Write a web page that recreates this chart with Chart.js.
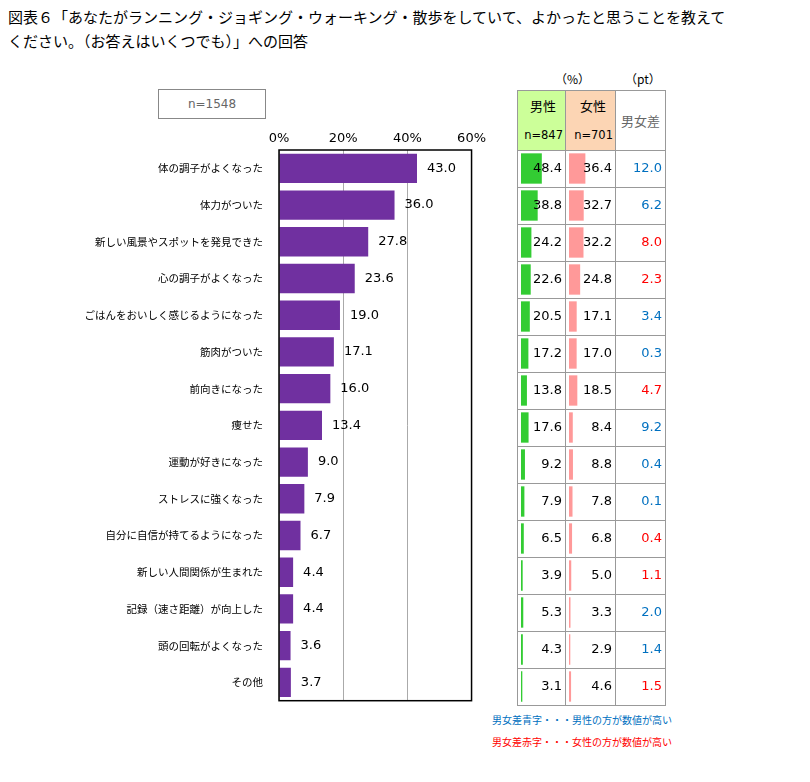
<!DOCTYPE html>
<html><head><meta charset="utf-8">
<script src="https://cdn.jsdelivr.net/npm/chart.js@4"></script>
<style>
body{margin:0;background:#fff;font-family:"Noto Sans CJK JP","Noto Sans",sans-serif;}
#wrap{position:relative;width:810px;height:782px;}
.abs{position:absolute;}
.t{font-size:15px;color:#000;line-height:24px;left:8px;top:5px;width:800px;}
.cell{position:absolute;box-sizing:border-box;}
.num{position:absolute;font-size:13px;font-family:"DejaVu Sans",sans-serif;text-align:right;}
</style></head>
<body><div id="wrap">
<div class="abs t">図表６「あなたがランニング・ジョギング・ウォーキング・散歩をしていて、よかったと思うことを教えて<br>ください。（お答えはいくつでも）」への回答</div>
<div class="abs" style="left:158px;top:89px;width:108px;height:30px;border:1px solid #888;box-sizing:border-box;font-size:12px;color:#666;text-align:center;line-height:28px;font-family:'DejaVu Sans'">n=1548</div>
<canvas id="main" class="abs" style="left:0;top:100px;width:490px;height:615px" width="490" height="615"></canvas>
<div id="table"></div>
<canvas id="male" class="abs" style="left:521px;top:150px;width:43px;height:555px" width="43" height="555"></canvas>
<canvas id="female" class="abs" style="left:569px;top:150px;width:45px;height:555px" width="45" height="555"></canvas>
<div id="nums"></div>
<div class="abs" style="left:492px;top:712px;font-size:10px;color:#0070c0">男女差青字・・・男性の方が数値が高い</div>
<div class="abs" style="left:492px;top:734px;font-size:10px;color:#ff0000">男女差赤字・・・女性の方が数値が高い</div>
</div>
<script>
const categories=["体の調子がよくなった","体力がついた","新しい風景やスポットを発見できた","心の調子がよくなった","ごはんをおいしく感じるようになった","筋肉がついた","前向きになった","痩せた","運動が好きになった","ストレスに強くなった","自分に自信が持てるようになった","新しい人間関係が生まれた","記録（速さ距離）が向上した","頭の回転がよくなった","その他"];
const total=[43.0,36.0,27.8,23.6,19.0,17.1,16.0,13.4,9.0,7.9,6.7,4.4,4.4,3.6,3.7];
const male=[48.4,38.8,24.2,22.6,20.5,17.2,13.8,17.6,9.2,7.9,6.5,3.9,5.3,4.3,3.1];
const female=[36.4,32.7,32.2,24.8,17.1,17.0,18.5,8.4,8.8,7.8,6.8,5.0,3.3,2.9,4.6];
const diff=[12.0,6.2,8.0,2.3,3.4,0.3,4.7,9.2,0.4,0.1,0.4,1.1,2.0,1.4,1.5];
const xTicks=[0,20,40,60];

const labelPlugin={id:'lbl',afterDatasetsDraw(c){
  const ctx=c.ctx,meta=c.getDatasetMeta(0);ctx.save();
  ctx.font='13px "DejaVu Sans"';ctx.fillStyle='#000';ctx.textBaseline='middle';
  meta.data.forEach((b,i)=>ctx.fillText(total[i].toFixed(1),b.x+10,b.y));
  const a=c.chartArea;ctx.strokeStyle='#000';ctx.lineWidth=1.5;ctx.strokeRect(a.left,a.top,a.right-a.left,a.bottom-a.top);
  ctx.restore();}};
new Chart(document.getElementById('main'),{type:'bar',
 data:{labels:categories,datasets:[{data:total,backgroundColor:'#7030a0',barPercentage:0.8,categoryPercentage:1}]},
 options:{indexAxis:'y',responsive:false,animation:false,devicePixelRatio:1,
  layout:{padding:{right:17,bottom:10,top:0}},
  plugins:{legend:{display:false},tooltip:{enabled:false}},
  scales:{
   x:{position:'top',min:0,max:60,afterBuildTicks(s){s.ticks=xTicks.map(v=>({value:v}));},
      afterFit(s){s.height=50;},
      ticks:{callback:v=>v+'%',color:'#000',font:{size:13,family:'DejaVu Sans'},padding:4,maxRotation:0},
      grid:{color:'#aaa',drawTicks:false},border:{display:false}},
   y:{afterFit(s){s.width=279;},ticks:{color:'#000',font:{size:10.5,family:'Noto Sans CJK JP'},padding:8},
      grid:{display:false},border:{display:false}}}},
 plugins:[labelPlugin]});

function mini(id,data,color){
 new Chart(document.getElementById(id),{type:'bar',
  data:{labels:categories,datasets:[{data:data,backgroundColor:color,barPercentage:0.82,categoryPercentage:1}]},
  options:{indexAxis:'y',responsive:false,animation:false,devicePixelRatio:1,layout:{padding:0},
   plugins:{legend:{display:false},tooltip:{enabled:false}},
   scales:{x:{display:false,min:0,max:100},y:{display:false}}}});
}
mini('male',male,'#33cc33');
mini('female',female,'#ff9999');

let h='';
const L=[517,565,615,665],hdrB=150,rowH=37;
h+=`<div class="cell" style="left:517px;top:90px;width:48px;height:60px;background:#ccff99"></div>`;
h+=`<div class="cell" style="left:565px;top:90px;width:50px;height:60px;background:#fcd5b4"></div>`;
L.forEach(x=>h+=`<div class="cell" style="left:${x}px;top:90px;width:1px;height:615px;background:#999"></div>`);
h+=`<div class="cell" style="left:517px;top:90px;width:149px;height:1px;background:#999"></div>`;
for(let i=0;i<=categories.length;i++){const y=hdrB+i*rowH;h+=`<div class="cell" style="left:517px;top:${y}px;width:149px;height:1px;background:#999"></div>`;}
h+=`<div class="abs" style="left:555px;top:70px;font-size:12px">（%）</div><div class="abs" style="left:625px;top:70px;font-size:12px">（pt）</div>`;
h+=`<div class="abs" style="left:530px;top:96px;font-size:13px">男性</div><div class="abs" style="left:580px;top:96px;font-size:13px">女性</div>`;
h+=`<div class="abs" style="left:621px;top:111px;font-size:13px;color:#666">男女差</div>`;
h+=`<div class="num" style="left:517px;top:128px;width:46px;font-size:11.5px">n=847</div><div class="num" style="left:565px;top:128px;width:48px;font-size:11.5px">n=701</div>`;
document.getElementById('table').innerHTML=h;
let n='';
categories.forEach((c,i)=>{const y=hdrB+i*rowH+10;
 const col=(male[i]-female[i])>=0?'#0070c0':'#ff0000';
 n+=`<div class="num" style="left:517px;top:${y}px;width:45px">${male[i].toFixed(1)}</div>`;
 n+=`<div class="num" style="left:565px;top:${y}px;width:47px">${female[i].toFixed(1)}</div>`;
 n+=`<div class="num" style="left:615px;top:${y}px;width:47px;color:${col}">${diff[i].toFixed(1)}</div>`;});
document.getElementById('nums').innerHTML=n;
</script></body></html>
